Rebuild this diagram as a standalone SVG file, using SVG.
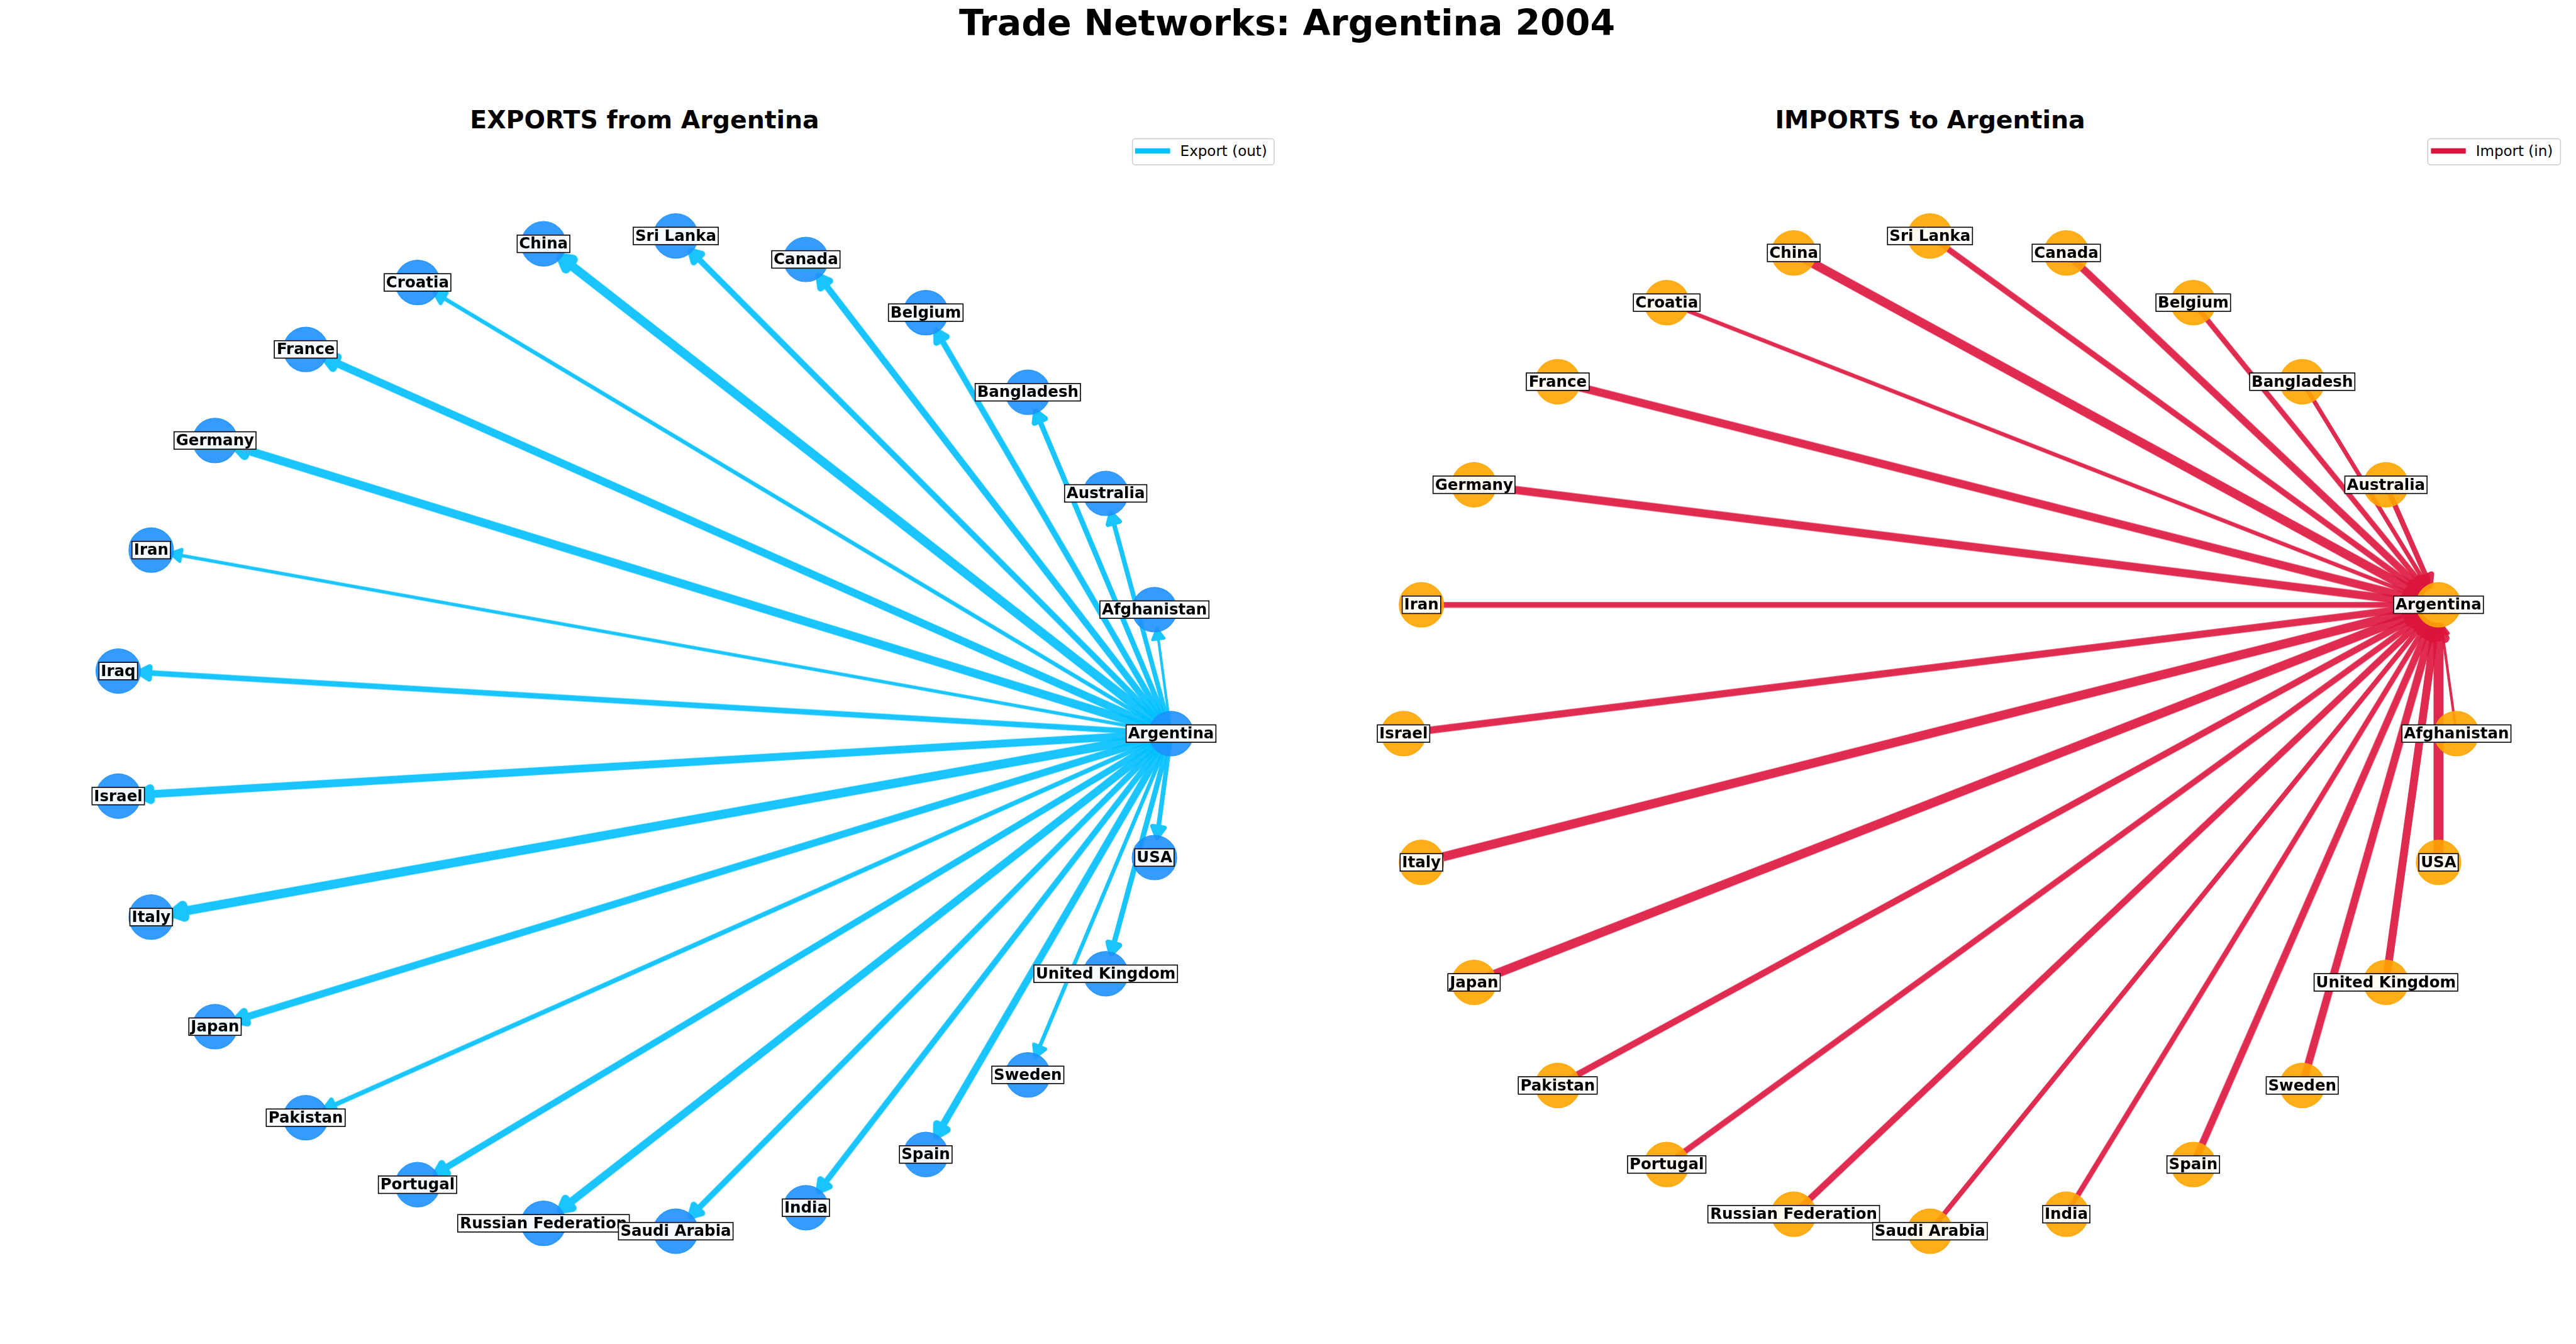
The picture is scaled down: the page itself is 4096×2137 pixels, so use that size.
<svg xmlns="http://www.w3.org/2000/svg" xmlns:xlink="http://www.w3.org/1999/xlink" width="4096" height="2137" viewBox="0 0 4096 2137">
<style>
.bg{fill:#fff}
.ttl{font-family:'DejaVu Sans','Liberation Sans',sans-serif;font-weight:bold;text-anchor:middle;fill:#000}
.ee{stroke:#00BFFF;fill:#00BFFF;stroke-linejoin:round}
.ei{stroke:#DC143C;fill:#DC143C;stroke-linejoin:round}
.l{fill:none}
.ne{fill:#1E90FF;fill-opacity:.9;stroke:#1E90FF;stroke-opacity:.9;stroke-width:1.2}
.ni{fill:#FFA500;fill-opacity:.9;stroke:#FFA500;stroke-opacity:.9;stroke-width:1.2}
.lb{fill:#fff;fill-opacity:.95;stroke:#000;stroke-width:1.6}
.lt{font-family:'DejaVu Sans','Liberation Sans',sans-serif;font-weight:bold;font-size:24.5px;text-anchor:middle;fill:#000}
.lg{fill:#fff;fill-opacity:.8;stroke:#ccc;stroke-width:1.5}
.lgt{font-family:'DejaVu Sans','Liberation Sans',sans-serif;font-size:23px;fill:#000}
</style>
<defs>
<path id="h" d="M0,0L-16.8,9.5L-16.8,-9.5Z"/>
</defs>
<rect class="bg" x="0" y="0" width="4096" height="2137"/>
<text class="ttl" x="2046.5" y="56.2" font-size="57">Trade Networks: Argentina 2004</text>
<text class="ttl" x="1025" y="204" font-size="39.4">EXPORTS from Argentina</text>
<text class="ttl" x="3069" y="204" font-size="39.4">IMPORTS to Argentina</text>

<g id="legend-export">
<rect class="lg" x="1800.6" y="220.5" width="225.4" height="41.5" rx="4.4"/>
<line x1="1805" y1="240" x2="1860.6" y2="240" stroke="#00BFFF" stroke-width="8.4"/>
<text class="lgt" x="1876.6" y="248.2">Export (out)</text>
</g>
<g id="legend-import">
<rect class="lg" x="3860.3" y="220.5" width="211.1" height="41.5" rx="4.4"/>
<line x1="3865.4" y1="240" x2="3920.7" y2="240" stroke="#DC143C" stroke-width="8.4"/>
<text class="lgt" x="3936.7" y="248.2">Import (in)</text>
</g>

<g id="edges-export" class="ee">
<g opacity=".9" stroke-width="4.2" transform="translate(1835.6,969.3) rotate(-97.63)"><path class="l" d="M-198.9,0H-47.3"/><use href="#h" x="-30.5"/></g>
<g opacity=".9" stroke-width="7.4" transform="translate(1758.1,784.5) rotate(-105.22)"><path class="l" d="M-395.8,0H-48.9"/><use href="#h" x="-32.1"/></g>
<g opacity=".9" stroke-width="8.4" transform="translate(1634.3,623.7) rotate(-112.76)"><path class="l" d="M-588.5,0H-49.4"/><use href="#h" x="-32.6"/></g>
<g opacity=".9" stroke-width="9.5" transform="translate(1472,497.1) rotate(-120.23)"><path class="l" d="M-774.6,0H-49.95"/><use href="#h" x="-33.15"/></g>
<g opacity=".9" stroke-width="10.5" transform="translate(1281.4,412.5) rotate(-127.6)"><path class="l" d="M-951.6,0H-50.45"/><use href="#h" x="-33.65"/></g>
<g opacity=".9" stroke-width="9.5" transform="translate(1074.5,375.2) rotate(-134.87)"><path class="l" d="M-1116.3,0H-49.95"/><use href="#h" x="-33.15"/></g>
<g opacity=".9" stroke-width="14.7" transform="translate(864.2,387.7) rotate(-142.03)"><path class="l" d="M-1265.7,0H-52.55"/><use href="#h" x="-35.75"/></g>
<g opacity=".9" stroke-width="6.3" transform="translate(663.9,449.1) rotate(-149.09)"><path class="l" d="M-1396.4,0H-48.35"/><use href="#h" x="-31.55"/></g>
<g opacity=".9" stroke-width="12.6" transform="translate(486.1,555.6) rotate(-156.06)"><path class="l" d="M-1505.4,0H-51.5"/><use href="#h" x="-34.7"/></g>
<g opacity=".9" stroke-width="13.7" transform="translate(341.9,700.4) rotate(-162.96)"><path class="l" d="M-1589.9,0H-52.05"/><use href="#h" x="-35.25"/></g>
<g opacity=".9" stroke-width="5.3" transform="translate(240.4,874.6) rotate(-169.8)"><path class="l" d="M-1647.6,0H-47.85"/><use href="#h" x="-31.05"/></g>
<g opacity=".9" stroke-width="8.9" transform="translate(188,1067) rotate(-176.6)"><path class="l" d="M-1677,0H-49.65"/><use href="#h" x="-32.85"/></g>
<g opacity=".9" stroke-width="12.6" transform="translate(188,1265.8) rotate(176.6)"><path class="l" d="M-1677,0H-51.5"/><use href="#h" x="-34.7"/></g>
<g opacity=".9" stroke-width="14.7" transform="translate(240.4,1458.2) rotate(169.8)"><path class="l" d="M-1647.6,0H-52.55"/><use href="#h" x="-35.75"/></g>
<g opacity=".9" stroke-width="11.6" transform="translate(341.9,1632.4) rotate(162.96)"><path class="l" d="M-1589.9,0H-51"/><use href="#h" x="-34.2"/></g>
<g opacity=".9" stroke-width="7.4" transform="translate(486.1,1777.2) rotate(156.06)"><path class="l" d="M-1505.4,0H-48.9"/><use href="#h" x="-32.1"/></g>
<g opacity=".9" stroke-width="10.5" transform="translate(663.9,1883.7) rotate(149.09)"><path class="l" d="M-1396.4,0H-50.45"/><use href="#h" x="-33.65"/></g>
<g opacity=".9" stroke-width="12.6" transform="translate(864.2,1945.1) rotate(142.03)"><path class="l" d="M-1265.7,0H-51.5"/><use href="#h" x="-34.7"/></g>
<g opacity=".9" stroke-width="9.5" transform="translate(1074.5,1957.6) rotate(134.87)"><path class="l" d="M-1116.3,0H-49.95"/><use href="#h" x="-33.15"/></g>
<g opacity=".9" stroke-width="9.5" transform="translate(1281.4,1920.3) rotate(127.6)"><path class="l" d="M-951.6,0H-49.95"/><use href="#h" x="-33.15"/></g>
<g opacity=".9" stroke-width="11.6" transform="translate(1472,1835.7) rotate(120.23)"><path class="l" d="M-774.6,0H-51"/><use href="#h" x="-34.2"/></g>
<g opacity=".9" stroke-width="6.3" transform="translate(1634.3,1709.1) rotate(112.76)"><path class="l" d="M-588.5,0H-48.35"/><use href="#h" x="-31.55"/></g>
<g opacity=".9" stroke-width="8.4" transform="translate(1758.1,1548.3) rotate(105.22)"><path class="l" d="M-395.8,0H-49.4"/><use href="#h" x="-32.6"/></g>
<g opacity=".9" stroke-width="7.4" transform="translate(1835.6,1363.5) rotate(97.63)"><path class="l" d="M-198.9,0H-48.9"/><use href="#h" x="-32.1"/></g>
</g>

<g id="edges-import" class="ei">
<g opacity=".9" stroke-width="4.2" transform="translate(3877.4,961.6) rotate(-97.92)"><path class="l" d="M-206.8,0H-47.3"/><use href="#h" x="-30.5"/></g>
<g opacity=".9" stroke-width="8.4" transform="translate(3877.4,961.6) rotate(66.34)"><path class="l" d="M-208.3,0H-49.4"/><use href="#h" x="-32.6"/></g>
<g opacity=".9" stroke-width="6.8" transform="translate(3877.4,961.6) rotate(58.58)"><path class="l" d="M-415.7,0H-48.6"/><use href="#h" x="-31.8"/></g>
<g opacity=".9" stroke-width="8.4" transform="translate(3877.4,961.6) rotate(50.93)"><path class="l" d="M-618.8,0H-49.4"/><use href="#h" x="-32.6"/></g>
<g opacity=".9" stroke-width="11.6" transform="translate(3877.4,961.6) rotate(43.38)"><path class="l" d="M-814.4,0H-51"/><use href="#h" x="-34.2"/></g>
<g opacity=".9" stroke-width="9.5" transform="translate(3877.4,961.6) rotate(35.95)"><path class="l" d="M-998.8,0H-49.95"/><use href="#h" x="-33.15"/></g>
<g opacity=".9" stroke-width="14.7" transform="translate(3877.4,961.6) rotate(28.62)"><path class="l" d="M-1168,0H-52.55"/><use href="#h" x="-35.75"/></g>
<g opacity=".9" stroke-width="6.3" transform="translate(3877.4,961.6) rotate(21.38)"><path class="l" d="M-1317.9,0H-48.35"/><use href="#h" x="-31.55"/></g>
<g opacity=".9" stroke-width="13.1" transform="translate(3877.4,961.6) rotate(14.21)"><path class="l" d="M-1444.7,0H-51.75"/><use href="#h" x="-34.95"/></g>
<g opacity=".9" stroke-width="13.1" transform="translate(3877.4,961.6) rotate(7.09)"><path class="l" d="M-1545.4,0H-51.75"/><use href="#h" x="-34.95"/></g>
<g opacity=".9" stroke-width="8.9" transform="translate(3877.4,961.6) rotate(0)"><path class="l" d="M-1617.2,0H-49.65"/><use href="#h" x="-32.85"/></g>
<g opacity=".9" stroke-width="11.6" transform="translate(3877.4,961.6) rotate(-7.09)"><path class="l" d="M-1658.4,0H-51"/><use href="#h" x="-34.2"/></g>
<g opacity=".9" stroke-width="14.7" transform="translate(3877.4,961.6) rotate(-14.21)"><path class="l" d="M-1668.3,0H-52.55"/><use href="#h" x="-35.75"/></g>
<g opacity=".9" stroke-width="14.7" transform="translate(3877.4,961.6) rotate(-21.38)"><path class="l" d="M-1646.9,0H-52.55"/><use href="#h" x="-35.75"/></g>
<g opacity=".9" stroke-width="10.5" transform="translate(3877.4,961.6) rotate(-28.62)"><path class="l" d="M-1595.5,0H-50.45"/><use href="#h" x="-33.65"/></g>
<g opacity=".9" stroke-width="9.5" transform="translate(3877.4,961.6) rotate(-35.95)"><path class="l" d="M-1516,0H-49.95"/><use href="#h" x="-33.15"/></g>
<g opacity=".9" stroke-width="10.5" transform="translate(3877.4,961.6) rotate(-43.38)"><path class="l" d="M-1410.7,0H-50.45"/><use href="#h" x="-33.65"/></g>
<g opacity=".9" stroke-width="7.9" transform="translate(3877.4,961.6) rotate(-50.93)"><path class="l" d="M-1282.9,0H-49.15"/><use href="#h" x="-32.35"/></g>
<g opacity=".9" stroke-width="8.4" transform="translate(3877.4,961.6) rotate(-58.58)"><path class="l" d="M-1135.5,0H-49.4"/><use href="#h" x="-32.6"/></g>
<g opacity=".9" stroke-width="11.6" transform="translate(3877.4,961.6) rotate(-66.34)"><path class="l" d="M-971.7,0H-51"/><use href="#h" x="-34.2"/></g>
<g opacity=".9" stroke-width="12.6" transform="translate(3877.4,961.6) rotate(-74.17)"><path class="l" d="M-794.4,0H-51.5"/><use href="#h" x="-34.7"/></g>
<g opacity=".9" stroke-width="12.6" transform="translate(3877.4,961.6) rotate(-82.07)"><path class="l" d="M-606.2,0H-51.5"/><use href="#h" x="-34.7"/></g>
<g opacity=".9" stroke-width="15.8" transform="translate(3877.4,961.6) rotate(-90)"><path class="l" d="M-409.6,0H-53.1"/><use href="#h" x="-36.3"/></g>
</g>

<g id="nodes-export">
<g id="ex-argentina" transform="translate(1862,1166.4)"><circle class="ne" r="35.5"/><rect class="lb" x="-71.35" y="-13.85" width="142.7" height="27.7"/><text class="lt" y="7.7">Argentina</text></g>
<g id="ex-afghanistan" transform="translate(1835.6,969.3)"><circle class="ne" r="35.5"/><rect class="lb" x="-86.65" y="-13.85" width="173.3" height="27.7"/><text class="lt" y="7.7">Afghanistan</text></g>
<g id="ex-australia" transform="translate(1758.1,784.5)"><circle class="ne" r="35.5"/><rect class="lb" x="-65.35" y="-13.85" width="130.7" height="27.7"/><text class="lt" y="7.7">Australia</text></g>
<g id="ex-bangladesh" transform="translate(1634.3,623.7)"><circle class="ne" r="35.5"/><rect class="lb" x="-83.65" y="-13.85" width="167.3" height="27.7"/><text class="lt" y="7.7">Bangladesh</text></g>
<g id="ex-belgium" transform="translate(1472,497.1)"><circle class="ne" r="35.5"/><rect class="lb" x="-59.3" y="-13.85" width="118.6" height="27.7"/><text class="lt" y="7.7">Belgium</text></g>
<g id="ex-canada" transform="translate(1281.4,412.5)"><circle class="ne" r="35.5"/><rect class="lb" x="-54.25" y="-13.85" width="108.5" height="27.7"/><text class="lt" y="7.7">Canada</text></g>
<g id="ex-srilanka" transform="translate(1074.5,375.2)"><circle class="ne" r="35.5"/><rect class="lb" x="-67.55" y="-13.85" width="135.1" height="27.7"/><text class="lt" y="7.7">Sri Lanka</text></g>
<g id="ex-china" transform="translate(864.2,387.7)"><circle class="ne" r="35.5"/><rect class="lb" x="-41.85" y="-13.85" width="83.7" height="27.7"/><text class="lt" y="7.7">China</text></g>
<g id="ex-croatia" transform="translate(663.9,449.1)"><circle class="ne" r="35.5"/><rect class="lb" x="-53" y="-13.85" width="106" height="27.7"/><text class="lt" y="7.7">Croatia</text></g>
<g id="ex-france" transform="translate(486.1,555.6)"><circle class="ne" r="35.5"/><rect class="lb" x="-49.95" y="-13.85" width="99.9" height="27.7"/><text class="lt" y="7.7">France</text></g>
<g id="ex-germany" transform="translate(341.9,700.4)"><circle class="ne" r="35.5"/><rect class="lb" x="-65.15" y="-13.85" width="130.3" height="27.7"/><text class="lt" y="7.7">Germany</text></g>
<g id="ex-iran" transform="translate(240.4,874.6)"><circle class="ne" r="35.5"/><rect class="lb" x="-30.6" y="-13.85" width="61.2" height="27.7"/><text class="lt" y="7.7">Iran</text></g>
<g id="ex-iraq" transform="translate(188,1067)"><circle class="ne" r="35.5"/><rect class="lb" x="-30.65" y="-13.85" width="61.3" height="27.7"/><text class="lt" y="7.7">Iraq</text></g>
<g id="ex-israel" transform="translate(188,1265.8)"><circle class="ne" r="35.5"/><rect class="lb" x="-41.65" y="-13.85" width="83.3" height="27.7"/><text class="lt" y="7.7">Israel</text></g>
<g id="ex-italy" transform="translate(240.4,1458.2)"><circle class="ne" r="35.5"/><rect class="lb" x="-33.85" y="-13.85" width="67.7" height="27.7"/><text class="lt" y="7.7">Italy</text></g>
<g id="ex-japan" transform="translate(341.9,1632.4)"><circle class="ne" r="35.5"/><rect class="lb" x="-41.6" y="-13.85" width="83.2" height="27.7"/><text class="lt" y="7.7">Japan</text></g>
<g id="ex-pakistan" transform="translate(486.1,1777.2)"><circle class="ne" r="35.5"/><rect class="lb" x="-62.75" y="-13.85" width="125.5" height="27.7"/><text class="lt" y="7.7">Pakistan</text></g>
<g id="ex-portugal" transform="translate(663.9,1883.7)"><circle class="ne" r="35.5"/><rect class="lb" x="-62.25" y="-13.85" width="124.5" height="27.7"/><text class="lt" y="7.7">Portugal</text></g>
<g id="ex-russia" transform="translate(864.2,1945.1)"><circle class="ne" r="35.5"/><rect class="lb" x="-136.45" y="-13.85" width="272.9" height="27.7"/><text class="lt" y="7.7">Russian Federation</text></g>
<g id="ex-saudiarabia" transform="translate(1074.5,1957.6)"><circle class="ne" r="35.5"/><rect class="lb" x="-91.1" y="-13.85" width="182.2" height="27.7"/><text class="lt" y="7.7">Saudi Arabia</text></g>
<g id="ex-india" transform="translate(1281.4,1920.3)"><circle class="ne" r="35.5"/><rect class="lb" x="-37.5" y="-13.85" width="75" height="27.7"/><text class="lt" y="7.7">India</text></g>
<g id="ex-spain" transform="translate(1472,1835.7)"><circle class="ne" r="35.5"/><rect class="lb" x="-41.8" y="-13.85" width="83.6" height="27.7"/><text class="lt" y="7.7">Spain</text></g>
<g id="ex-sweden" transform="translate(1634.3,1709.1)"><circle class="ne" r="35.5"/><rect class="lb" x="-57.25" y="-13.85" width="114.5" height="27.7"/><text class="lt" y="7.7">Sweden</text></g>
<g id="ex-uk" transform="translate(1758.1,1548.3)"><circle class="ne" r="35.5"/><rect class="lb" x="-114.2" y="-13.85" width="228.4" height="27.7"/><text class="lt" y="7.7">United Kingdom</text></g>
<g id="ex-usa" transform="translate(1835.6,1363.5)"><circle class="ne" r="35.5"/><rect class="lb" x="-31.25" y="-13.85" width="62.5" height="27.7"/><text class="lt" y="7.7">USA</text></g>
</g>

<g id="nodes-import">
<g id="im-afghanistan" transform="translate(3905.9,1166.4)"><circle class="ni" r="35.5"/><rect class="lb" x="-86.65" y="-13.85" width="173.3" height="27.7"/><text class="lt" y="7.7">Afghanistan</text></g>
<g id="im-argentina" transform="translate(3877.4,961.6)"><circle class="ni" r="35.5"/><rect class="lb" x="-71.35" y="-13.85" width="142.7" height="27.7"/><text class="lt" y="7.7">Argentina</text></g>
<g id="im-australia" transform="translate(3793.8,770.8)"><circle class="ni" r="35.5"/><rect class="lb" x="-65.35" y="-13.85" width="130.7" height="27.7"/><text class="lt" y="7.7">Australia</text></g>
<g id="im-bangladesh" transform="translate(3660.7,606.9)"><circle class="ni" r="35.5"/><rect class="lb" x="-83.65" y="-13.85" width="167.3" height="27.7"/><text class="lt" y="7.7">Bangladesh</text></g>
<g id="im-belgium" transform="translate(3487.4,481.2)"><circle class="ni" r="35.5"/><rect class="lb" x="-59.3" y="-13.85" width="118.6" height="27.7"/><text class="lt" y="7.7">Belgium</text></g>
<g id="im-canada" transform="translate(3285.5,402.2)"><circle class="ni" r="35.5"/><rect class="lb" x="-54.25" y="-13.85" width="108.5" height="27.7"/><text class="lt" y="7.7">Canada</text></g>
<g id="im-srilanka" transform="translate(3068.8,375.2)"><circle class="ni" r="35.5"/><rect class="lb" x="-67.55" y="-13.85" width="135.1" height="27.7"/><text class="lt" y="7.7">Sri Lanka</text></g>
<g id="im-china" transform="translate(2852.1,402.2)"><circle class="ni" r="35.5"/><rect class="lb" x="-41.85" y="-13.85" width="83.7" height="27.7"/><text class="lt" y="7.7">China</text></g>
<g id="im-croatia" transform="translate(2650.2,481.2)"><circle class="ni" r="35.5"/><rect class="lb" x="-53" y="-13.85" width="106" height="27.7"/><text class="lt" y="7.7">Croatia</text></g>
<g id="im-france" transform="translate(2476.9,606.9)"><circle class="ni" r="35.5"/><rect class="lb" x="-49.95" y="-13.85" width="99.9" height="27.7"/><text class="lt" y="7.7">France</text></g>
<g id="im-germany" transform="translate(2343.8,770.8)"><circle class="ni" r="35.5"/><rect class="lb" x="-65.15" y="-13.85" width="130.3" height="27.7"/><text class="lt" y="7.7">Germany</text></g>
<g id="im-iran" transform="translate(2260.2,961.6)"><circle class="ni" r="35.5"/><rect class="lb" x="-30.6" y="-13.85" width="61.2" height="27.7"/><text class="lt" y="7.7">Iran</text></g>
<g id="im-israel" transform="translate(2231.7,1166.4)"><circle class="ni" r="35.5"/><rect class="lb" x="-41.65" y="-13.85" width="83.3" height="27.7"/><text class="lt" y="7.7">Israel</text></g>
<g id="im-italy" transform="translate(2260.2,1371.2)"><circle class="ni" r="35.5"/><rect class="lb" x="-33.85" y="-13.85" width="67.7" height="27.7"/><text class="lt" y="7.7">Italy</text></g>
<g id="im-japan" transform="translate(2343.8,1562)"><circle class="ni" r="35.5"/><rect class="lb" x="-41.6" y="-13.85" width="83.2" height="27.7"/><text class="lt" y="7.7">Japan</text></g>
<g id="im-pakistan" transform="translate(2476.9,1725.9)"><circle class="ni" r="35.5"/><rect class="lb" x="-62.75" y="-13.85" width="125.5" height="27.7"/><text class="lt" y="7.7">Pakistan</text></g>
<g id="im-portugal" transform="translate(2650.2,1851.6)"><circle class="ni" r="35.5"/><rect class="lb" x="-62.25" y="-13.85" width="124.5" height="27.7"/><text class="lt" y="7.7">Portugal</text></g>
<g id="im-russia" transform="translate(2852.1,1930.6)"><circle class="ni" r="35.5"/><rect class="lb" x="-136.45" y="-13.85" width="272.9" height="27.7"/><text class="lt" y="7.7">Russian Federation</text></g>
<g id="im-saudiarabia" transform="translate(3068.8,1957.6)"><circle class="ni" r="35.5"/><rect class="lb" x="-91.1" y="-13.85" width="182.2" height="27.7"/><text class="lt" y="7.7">Saudi Arabia</text></g>
<g id="im-india" transform="translate(3285.5,1930.6)"><circle class="ni" r="35.5"/><rect class="lb" x="-37.5" y="-13.85" width="75" height="27.7"/><text class="lt" y="7.7">India</text></g>
<g id="im-spain" transform="translate(3487.4,1851.6)"><circle class="ni" r="35.5"/><rect class="lb" x="-41.8" y="-13.85" width="83.6" height="27.7"/><text class="lt" y="7.7">Spain</text></g>
<g id="im-sweden" transform="translate(3660.7,1725.9)"><circle class="ni" r="35.5"/><rect class="lb" x="-57.25" y="-13.85" width="114.5" height="27.7"/><text class="lt" y="7.7">Sweden</text></g>
<g id="im-uk" transform="translate(3793.8,1562)"><circle class="ni" r="35.5"/><rect class="lb" x="-114.2" y="-13.85" width="228.4" height="27.7"/><text class="lt" y="7.7">United Kingdom</text></g>
<g id="im-usa" transform="translate(3877.4,1371.2)"><circle class="ni" r="35.5"/><rect class="lb" x="-31.25" y="-13.85" width="62.5" height="27.7"/><text class="lt" y="7.7">USA</text></g>
</g>
</svg>
